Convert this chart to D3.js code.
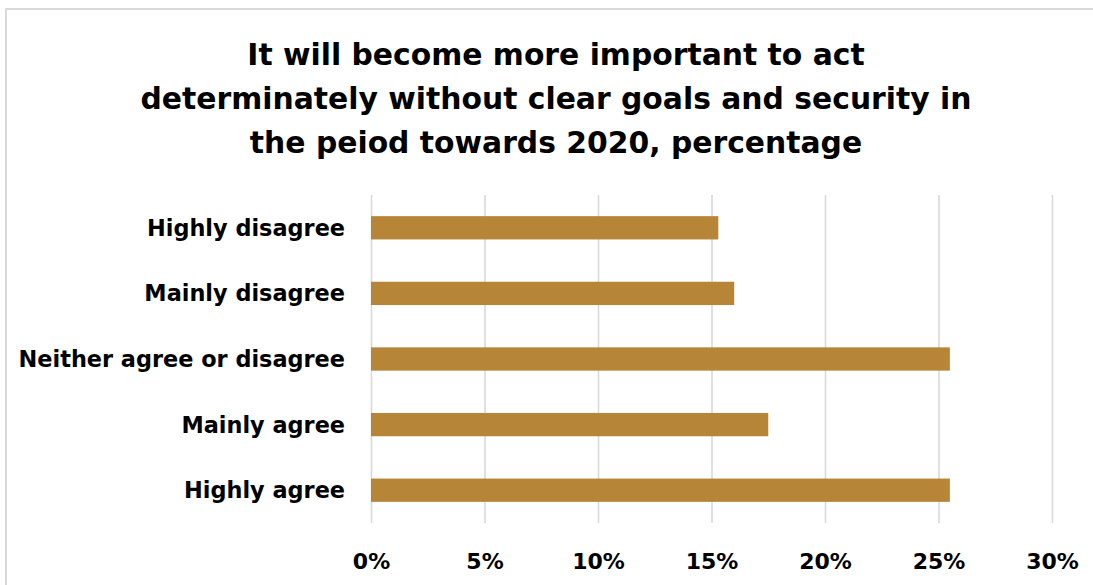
<!DOCTYPE html>
<html>
<head>
<meta charset="utf-8">
<script src="https://cdn.jsdelivr.net/npm/d3@7/dist/d3.min.js"></script>
<style>
  html, body { margin: 0; padding: 0; background: #ffffff; }
  svg { display: block; }
  text { font-family: "DejaVu Sans", "Open Sans", sans-serif; font-weight: 700; fill: #000; }
</style>
</head>
<body>
<script>
// Survey answers, top to bottom
const categories = [
  "Highly disagree",
  "Mainly disagree",
  "Neither agree or disagree",
  "Mainly agree",
  "Highly agree"
];
// Share of respondents, percent
const values = [15.3, 16.0, 25.5, 17.5, 25.5];
// Axis ticks, percent
const tickValues = [0, 5, 10, 15, 20, 25, 30];
const titleLines = [
  "It will become more important to act",
  "determinately without clear goals and security in",
  "the peiod towards 2020, percentage"
];

const W = 1093, H = 585;
const plot = { left: 371, right: 1052, top: 195, bottom: 523 };
const barColor = "#b68537";
const gridColor = "#d9d9d9";

const svg = d3.select("body").append("svg")
  .attr("width", W).attr("height", H);

// Frame lines (top and left edges of the chart box)
svg.append("path")
  .attr("d", `M6,${H} L6,9 L${W},9`)
  .attr("fill", "none")
  .attr("stroke", gridColor)
  .attr("stroke-width", 2);

// Title
svg.append("g").selectAll("text")
  .data(titleLines)
  .join("text")
  .attr("x", 556)
  .attr("y", (d, i) => 65 + i * 44)
  .attr("text-anchor", "middle")
  .attr("font-size", 29.8)
  .text(d => d);

const x = d3.scaleLinear()
  .domain([0, 30])
  .range([plot.left, plot.right]);

const y = d3.scaleBand()
  .domain(categories)
  .range([plot.top, plot.bottom])
  .paddingInner(0.645)
  .paddingOuter(0.3225);

// Vertical gridlines and percent labels
const xAxis = d3.axisBottom(x)
  .tickValues(tickValues)
  .tickSize(-(plot.bottom - plot.top))
  .tickPadding(0)
  .tickFormat(d => d + "%");

const gx = svg.append("g")
  .attr("transform", `translate(0,${plot.bottom})`)
  .call(xAxis);
gx.select(".domain").remove();
gx.attr("font-family", null).attr("font-size", null);
gx.selectAll(".tick line")
  .attr("stroke", gridColor)
  .attr("stroke-width", 1.6);
gx.selectAll(".tick text")
  .attr("y", 46)
  .attr("dy", 0)
  .attr("font-size", 22)
  .attr("fill", "#000");

// Bars
svg.append("g").selectAll("rect")
  .data(values)
  .join("rect")
  .attr("x", x(0))
  .attr("y", (d, i) => y(categories[i]))
  .attr("width", d => x(d) - x(0))
  .attr("height", y.bandwidth())
  .attr("fill", barColor);

// Category labels
const yAxis = d3.axisLeft(y)
  .tickSize(0)
  .tickPadding(26);
const gy = svg.append("g")
  .attr("transform", `translate(${plot.left},0)`)
  .call(yAxis);
gy.select(".domain").remove();
gy.attr("font-family", null).attr("font-size", null);
gy.selectAll(".tick text")
  .attr("font-size", 22.4)
  .attr("dy", "0.36em")
  .attr("fill", "#000");
</script>
</body>
</html>
